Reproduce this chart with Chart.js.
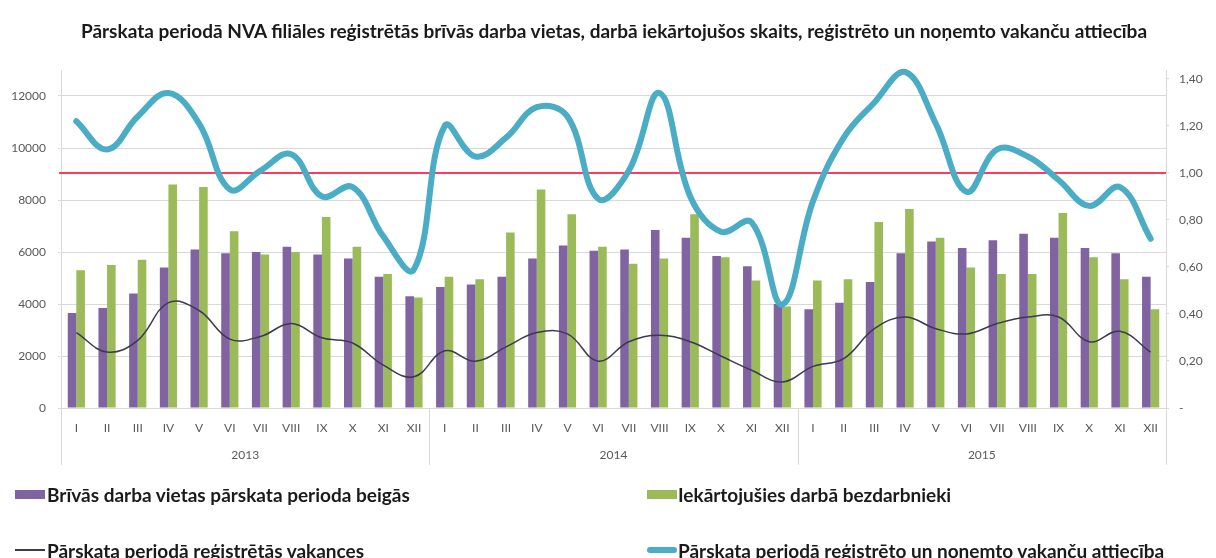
<!DOCTYPE html>
<html><head><meta charset="utf-8">
<script src="https://cdn.jsdelivr.net/npm/chart.js@4.4.1/dist/chart.umd.min.js"></script>
<style>
body{margin:0;background:#fff;}
#wrap{position:relative;width:1216px;height:558px;overflow:hidden;}
#c{position:absolute;left:0;top:0;}
#title{position:absolute;left:0;top:19px;width:1228px;height:22px;line-height:22px;text-align:center;font:bold 19px Lato,sans-serif;color:#1a1a1a;white-space:nowrap;}
.leg{position:absolute;height:20px;line-height:20px;font:bold 19px Lato,sans-serif;color:#1a1a1a;white-space:nowrap;}
.mk{position:absolute;width:30px;}
</style></head>
<body>
<div id="wrap">
<canvas id="c" width="1216" height="558"></canvas>
<div id="title">Pārskata periodā NVA filiāles reģistrētās brīvās darba vietas, darbā iekārtojušos skaits, reģistrēto un noņemto vakanču attiecība</div>
<div id="legend"></div>
</div>
<script>
const years = ['2013', '2014', '2015'];
const months = ['I','II','III','IV','V','VI','VII','VIII','IX','X','XI','XII'];

const freeVacancies = [
  3650,3850,4400,5400,6100,5950,6000,6200,5900,5750,5050,4300,
  4650,4750,5050,5750,6250,6050,6100,6850,6550,5850,5450,4000,
  3800,4050,4850,5950,6400,6150,6450,6700,6550,6150,5950,5050
];
const employedUnemployed = [
  5300,5500,5700,8600,8500,6800,5900,6000,7350,6200,5150,4250,
  5050,4950,6750,8400,7450,6200,5550,5750,7450,5800,4900,3900,
  4900,4950,7150,7650,6550,5400,5150,5150,7500,5800,4950,3800
];
const registeredVacancies = [
  2900,2150,2600,4050,3750,2650,2750,3250,2700,2500,1650,1200,
  2200,1800,2350,2900,2850,1800,2550,2800,2550,2000,1450,1000,
  1600,1900,3050,3500,3050,2850,3250,3500,3500,2550,2950,2150
];
const ratio = [
  1.22,1.10,1.24,1.34,1.21,0.93,1.01,1.08,0.90,0.94,0.73,0.59,
  1.20,1.07,1.15,1.28,1.24,0.89,1.01,1.34,0.90,0.75,0.79,0.44,
  0.88,1.15,1.30,1.43,1.21,0.92,1.10,1.07,0.97,0.86,0.94,0.72
];
const referenceRatio = 1.0;
const leftTickValues = [0, 2000, 4000, 6000, 8000, 10000, 12000];
const rightTickValues = [0, 0.2, 0.4, 0.6, 0.8, 1.0, 1.2, 1.4];

const seriesLabels = [
  'Brīvās darba vietas pārskata perioda beigās',
  'Iekārtojušies darbā bezdarbnieki',
  'Pārskata periodā reģistrētās vakances',
  'Pārskata periodā reģistrēto un noņemto vakanču attiecība'
];
const colors = ['#8064A2', '#9BBB59', '#3d3950', '#4BACC6'];

const labels = [];
years.forEach(() => months.forEach(m => labels.push(m)));

const gridGrey = '#d9d9d9';
const tickGrey = '#595959';

const extras = {
  id: 'extras',
  beforeDatasetsDraw(chart) {
    const ctx = chart.ctx, ca = chart.chartArea;
    const y = chart.scales.y1.getPixelForValue(referenceRatio);
    ctx.save();
    ctx.strokeStyle = '#ff3b5c';
    ctx.lineWidth = 2;
    ctx.beginPath();
    ctx.moveTo(ca.left - 2, y);
    ctx.lineTo(ca.right, y);
    ctx.stroke();
    ctx.restore();
  },
  afterDraw(chart) {
    const ctx = chart.ctx, ca = chart.chartArea, xs = chart.scales.x;
    const n = months.length;
    const bounds = [ca.left];
    for (let i = 1; i < years.length; i++) {
      bounds.push((xs.getPixelForValue(i * n - 1) + xs.getPixelForValue(i * n)) / 2);
    }
    bounds.push(ca.right);
    ctx.save();
    ctx.strokeStyle = gridGrey;
    ctx.lineWidth = 1;
    bounds.forEach(b => {
      const bx = Math.round(b) + 0.5;
      ctx.beginPath();
      ctx.moveTo(bx, ca.bottom);
      ctx.lineTo(bx, 465);
      ctx.stroke();
    });
    ctx.fillStyle = tickGrey;
    ctx.font = '12px Lato, sans-serif';
    ctx.textAlign = 'center';
    ctx.textBaseline = 'middle';
    years.forEach((yr, i) => {
      ctx.fillText(yr, (bounds[i] + bounds[i + 1]) / 2, 455);
    });
    ctx.restore();
  }
};

new Chart(document.getElementById('c'), {
  data: {
    labels,
    datasets: [
      { type: 'bar', label: seriesLabels[0], data: freeVacancies, backgroundColor: colors[0], yAxisID: 'y', order: 2,
        categoryPercentage: 0.56, barPercentage: 1 },
      { type: 'bar', label: seriesLabels[1], data: employedUnemployed, backgroundColor: colors[1], yAxisID: 'y', order: 3,
        categoryPercentage: 0.56, barPercentage: 1 },
      { type: 'line', label: seriesLabels[2], data: registeredVacancies, borderColor: colors[2], borderWidth: 1.5,
        pointRadius: 0, tension: 0.4, yAxisID: 'y', order: 1 },
      { type: 'line', label: seriesLabels[3], data: ratio, borderColor: colors[3], borderWidth: 6,
        pointRadius: 0, tension: 0.4, yAxisID: 'y1', order: 0, clip: false, borderCapStyle: 'round', borderJoinStyle: 'round' }
    ]
  },
  options: {
    responsive: false,
    animation: false,
    layout: { padding: { top: 70, bottom: 93, left: 0, right: 0 } },
    plugins: { legend: { display: false }, title: { display: false }, tooltip: { enabled: false } },
    scales: {
      x: {
        grid: { display: false, drawTicks: false },
        border: { display: true, color: gridGrey },
        ticks: { color: tickGrey, font: { family: 'Lato', size: 12 }, padding: 13, maxRotation: 0, autoSkip: false },
        afterFit(s) { s.height = 57; }
      },
      y: {
        position: 'left',
        min: 0, max: 13000,
        grid: { color: gridGrey, tickLength: 3 },
        border: { display: true, color: gridGrey },
        ticks: { color: tickGrey, font: { family: 'Lato', size: 12 }, padding: 12, callback: v => String(v) },
        afterBuildTicks(s) { s.ticks = leftTickValues.map(v => ({ value: v })); },
        afterFit(s) { s.width = 61; }
      },
      y1: {
        position: 'right',
        min: 0, max: 1.438,
        grid: { drawOnChartArea: false, color: gridGrey, tickLength: 3 },
        border: { display: true, color: gridGrey },
        ticks: { color: tickGrey, font: { family: 'Lato', size: 12 }, padding: 10,
          callback: v => v === 0 ? '-' : v.toFixed(2).replace('.', ',') },
        afterBuildTicks(s) { s.ticks = rightTickValues.map(v => ({ value: v })); },
        afterFit(s) { s.width = 50; }
      }
    }
  },
  plugins: [extras]
});

// HTML legend built from the series labels and colours
const legendPos = [
  { text: 47, mk: 15, top: 483 }, { text: 678, mk: 647, top: 483 },
  { text: 47, mk: 15, top: 539 }, { text: 678, mk: 647, top: 539 }
];
const markerBox = [
  { h: 9, dy: 7 }, { h: 9, dy: 7 }, { h: 2, dy: 10 }, { h: 6, dy: 8 }
];
const legend = document.getElementById('legend');
seriesLabels.forEach((lab, i) => {
  const mk = document.createElement('div');
  mk.className = 'mk';
  mk.style.left = legendPos[i].mk + 'px';
  mk.style.top = (legendPos[i].top + markerBox[i].dy) + 'px';
  mk.style.height = markerBox[i].h + 'px';
  mk.style.background = colors[i];
  if (i === 3) mk.style.borderRadius = '3px';
  legend.appendChild(mk);
  const d = document.createElement('div');
  d.className = 'leg';
  d.style.left = legendPos[i].text + 'px';
  d.style.top = legendPos[i].top + 'px';
  d.textContent = lab;
  legend.appendChild(d);
});
</script>
</body></html>
